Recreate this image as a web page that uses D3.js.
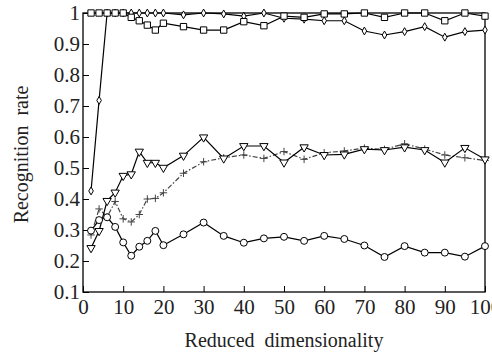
<!DOCTYPE html>
<html>
<head>
<meta charset="utf-8">
<script src="https://cdn.jsdelivr.net/npm/d3@7"></script>
<style>
  html, body { margin: 0; padding: 0; background: #fff; }
  svg { display: block; font-family: "Liberation Serif", "Times New Roman", serif; }
</style>
</head>
<body>
<svg id="chart"></svg>
<script>
// reduced dimensionality (x values)
const dims = [2, 4, 6, 8, 10, 12, 14, 16, 18, 20, 25, 30, 35, 40, 45, 50, 55, 60, 65, 70, 75, 80, 85, 90, 95, 100];

// recognition rates per method
const diamondRates = [0.426, 0.718, 1, 1, 1, 1, 1, 1, 1, 1, 0.994, 1, 0.997, 0.99, 1, 0.983, 0.98, 0.975, 0.975, 0.942, 0.929, 0.94, 0.956, 0.922, 0.94, 0.945];
const squareRates = [1, 1, 1, 1, 1, 0.986, 0.975, 0.961, 0.945, 0.967, 0.956, 0.945, 0.945, 0.972, 0.959, 0.99, 0.986, 0.997, 0.997, 1, 0.986, 1, 1, 0.975, 1, 0.99];
const plusRates = [0.284, 0.368, 0.342, 0.392, 0.336, 0.326, 0.35, 0.4, 0.402, 0.42, 0.483, 0.52, 0.533, 0.542, 0.531, 0.553, 0.528, 0.549, 0.555, 0.564, 0.56, 0.578, 0.561, 0.542, 0.533, 0.524];
const triangleRates = [0.242, 0.297, 0.394, 0.421, 0.475, 0.48, 0.553, 0.517, 0.517, 0.501, 0.54, 0.599, 0.531, 0.571, 0.571, 0.518, 0.567, 0.542, 0.544, 0.561, 0.558, 0.567, 0.558, 0.518, 0.565, 0.528];
const circleRates = [0.298, 0.332, 0.341, 0.31, 0.26, 0.217, 0.246, 0.265, 0.297, 0.251, 0.286, 0.324, 0.281, 0.259, 0.273, 0.278, 0.265, 0.281, 0.271, 0.25, 0.213, 0.248, 0.227, 0.227, 0.214, 0.248];

const xTicks = [0, 10, 20, 30, 40, 50, 60, 70, 80, 90, 100];
const yTicks = [0.1, 0.2, 0.3, 0.4, 0.5, 0.6, 0.7, 0.8, 0.9, 1];
const xLabel = "Reduced\u2002dimensionality";
const yLabel = "Recognition\u2002rate";

const width = 492, height = 354;
const svg = d3.select("#chart")
  .attr("width", width)
  .attr("height", height)
  .attr("viewBox", [0, 0, width, height]);

const x = d3.scaleLinear([0, 100], [83, 485]);
const y = d3.scaleLinear([0.1, 1], [292, 13]);

// plus marker (d3.symbolCross is too fat)
const plus = {
  draw(ctx, size) {
    const r = Math.sqrt(size) / 2;
    ctx.moveTo(-r, 0); ctx.lineTo(r, 0);
    ctx.moveTo(0, -r); ctx.lineTo(0, r);
  }
};

const series = [
  { values: diamondRates, sym: d3.symbolDiamond, size: 18, dash: null, color: "#000", rot: 0 },
  { values: squareRates, sym: d3.symbolSquare, size: 40, dash: null, color: "#000", rot: 0 },
  { values: plusRates, sym: plus, size: 56, dash: "5,2,1.5,2", color: "#444", rot: 0 },
  { values: triangleRates, sym: d3.symbolTriangle, size: 30, dash: null, color: "#000", rot: 180 },
  { values: circleRates, sym: d3.symbolCircle, size: 38, dash: null, color: "#000", rot: 0 }
];

// axes, inward ticks
const gx = svg.append("g")
  .attr("transform", `translate(0,${y(0.1)})`)
  .call(d3.axisBottom(x).tickValues(xTicks).tickSizeInner(-6).tickSizeOuter(0).tickPadding(7).tickFormat(d3.format("d")));
const gy = svg.append("g")
  .attr("transform", `translate(${x(0)},0)`)
  .call(d3.axisLeft(y).tickValues(yTicks).tickSizeInner(-6).tickSizeOuter(0).tickPadding(3).tickFormat(d => d === 1 ? "1" : d3.format(".1f")(d)));
[gx, gy].forEach(g => {
  g.select(".domain").remove();
  g.selectAll("line").attr("stroke", "#000").attr("stroke-width", 1);
  g.selectAll("text").attr("font-family", "Liberation Serif, serif").attr("font-size", 21).attr("fill", "#222");
});

// frame
svg.append("rect")
  .attr("x", x(0)).attr("y", y(1))
  .attr("width", x(100) - x(0)).attr("height", y(0.1) - y(1))
  .attr("fill", "none").attr("stroke", "#000").attr("stroke-width", 1.3);

const line = d3.line().x(d => x(d[0])).y(d => y(d[1]));

series.forEach(s => {
  const pts = dims.map((d, i) => [d, s.values[i]]);
  svg.append("path")
    .datum(pts)
    .attr("d", line)
    .attr("fill", "none")
    .attr("stroke", s.color)
    .attr("stroke-width", 1.2)
    .attr("stroke-dasharray", s.dash);
  svg.append("g")
    .selectAll("path")
    .data(pts)
    .join("path")
    .attr("transform", d => `translate(${x(d[0])},${y(d[1])}) rotate(${s.rot})`)
    .attr("d", d3.symbol(s.sym, s.size))
    .attr("fill", s.sym === plus ? "none" : "#fff")
    .attr("stroke", s.color)
    .attr("stroke-width", 1);
});

// axis titles
svg.append("text")
  .attr("x", (x(0) + x(100)) / 2)
  .attr("y", 347)
  .attr("text-anchor", "middle")
  .attr("font-size", 20)
  .attr("fill", "#222")
  .text(xLabel);

svg.append("text")
  .attr("transform", `translate(28,${(y(0.1) + y(1)) / 2 + 2}) rotate(-90)`)
  .attr("text-anchor", "middle")
  .attr("font-size", 20)
  .attr("fill", "#222")
  .text(yLabel);
</script>
</body>
</html>
